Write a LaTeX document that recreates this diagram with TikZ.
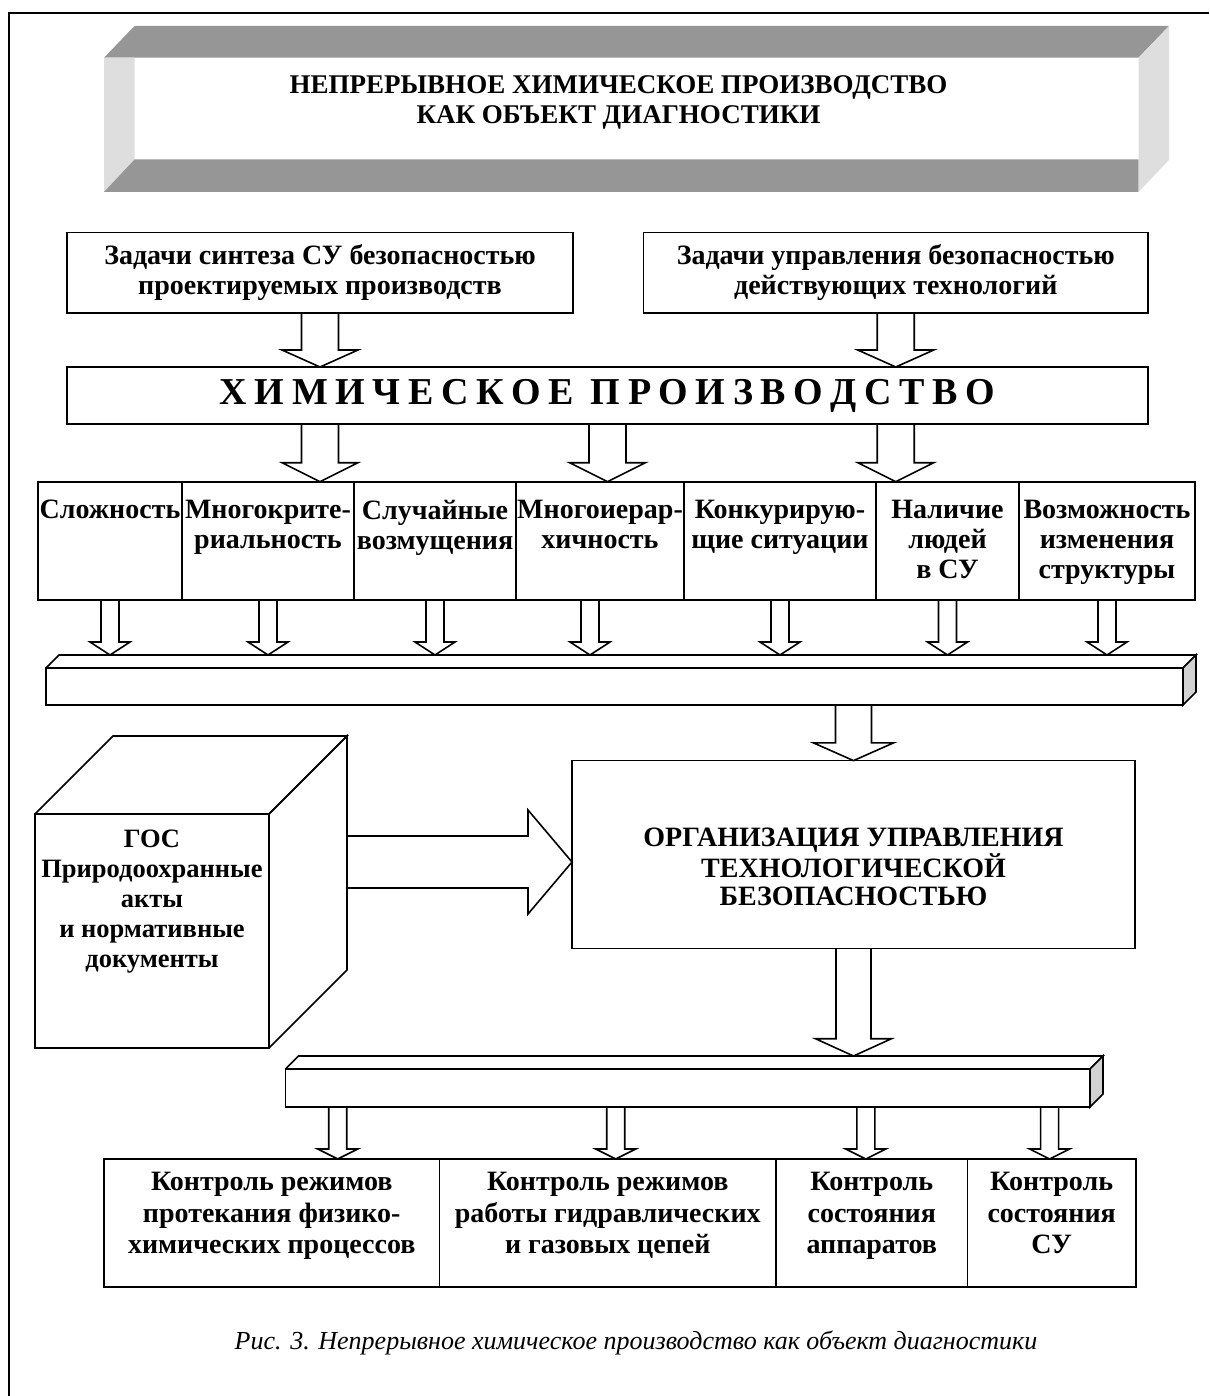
\documentclass[tikz,border=0pt]{standalone}
\usepackage{fontspec}
\setmainfont{Liberation Serif}
\usetikzlibrary{calc,positioning}

\definecolor{facedark}{gray}{0.59}
\definecolor{facelight}{gray}{0.87}
\definecolor{barside}{gray}{0.82}

\begin{document}
\begin{tikzpicture}[x=1pt, y=-1pt, line join=miter,
    box/.style={draw, line width=1.6pt, inner sep=0pt, outer sep=0pt,
      align=center, font=\fontsize{28}{30}\selectfont\bfseries},
    cell/.style={box, minimum height=118.3pt},
    kcell/.style={box, minimum height=128pt},
    boxtext/.style={anchor=north, align=center, inner sep=0pt,
      font=\fontsize{28}{30}\selectfont\bfseries},
    bar/.style={draw, line width=1.6pt, inner sep=0pt, outer sep=0pt,
      anchor=north west},
    face/.style={line width=1.6pt},
    blkdown/.style args={#1/#2/#3}{draw, line width=1.6pt,
      to path={let \p1=(\tikztostart), \p2=(\tikztotarget) in
        (\x1-#1,\y1) -- (\x1-#1,\y2+#3) -- (\x1-#2,\y2+#3) -- (\x1,\y2)
        -- (\x1+#2,\y2+#3) -- (\x1+#1,\y2+#3) -- (\x1+#1,\y1)}},
    blkright/.style args={#1/#2/#3}{draw, line width=1.6pt,
      to path={let \p1=(\tikztostart), \p2=(\tikztotarget) in
        (\x1,\y1+#1) -- (\x2-#3,\y1+#1) -- (\x2-#3,\y1+#2) -- (\x2,\y1)
        -- (\x2-#3,\y1-#2) -- (\x2-#3,\y1-#1) -- (\x1,\y1-#1)}}]

  \useasboundingbox (0,0) rectangle (1209,1396);
  \draw[line width=2pt] (9,1396) -- (9,12.7) -- (1209,12.7);

  % title plate
  \fill[facedark] (104,57.7) -- (134.5,26) -- (1169,26) -- (1138.5,57.7) -- cycle;
  \fill[facelight] (104,57.7) -- (134.5,57.7) -- (134.5,159.5) -- (104,192) -- cycle;
  \fill[facedark] (104,192) -- (134.5,159.5) -- (1138.5,159.5) -- (1138.5,192) -- cycle;
  \fill[facelight] (1138.5,57.7) -- (1169,26) -- (1169,160) -- (1138.5,192) -- cycle;
  \node[align=center, font=\fontsize{27}{30}\selectfont\bfseries] (title) at (618.5,102)
    {НЕПРЕРЫВНОЕ ХИМИЧЕСКОЕ ПРОИЗВОДСТВО\\КАК ОБЪЕКТ ДИАГНОСТИКИ};

  \node[box, minimum width=506pt, minimum height=80pt] (zadA) at (320,272.7)
    {Задачи синтеза СУ безопасностью\\проектируемых производств};
  \node[box, minimum width=504.5pt, minimum height=80pt] (zadB) at (895.75,272.7)
    {Задачи управления безопасностью\\действующих технологий};
  \node[box, minimum width=1081pt, minimum height=57pt,
    font=\fontsize{38}{40}\selectfont\bfseries] (khim) at (607.5,395.5)
    {\spaceskip=7.6pt Х И М И Ч Е С К О Е\hspace{17pt}П Р О И З В О Д С Т В О};

  % factors
  \node[cell, minimum width=144pt, anchor=north west,
    label={[boxtext, yshift=-18pt]north:Сложность}] (c1) at (38,481.7) {};
  \node[cell, minimum width=172pt, right=0pt of c1,
    label={[boxtext, yshift=-18pt]north:{Многокрите-\\риальность}}] (c2) {};
  \node[cell, minimum width=162pt, right=0pt of c2,
    label={[boxtext, yshift=-18pt]north:{Случайные\\возмущения}}] (c3) {};
  \node[cell, minimum width=168pt, right=0pt of c3,
    label={[boxtext, yshift=-18pt]north:{Многоиерар-\\хичность}}] (c4) {};
  \node[cell, minimum width=192pt, right=0pt of c4,
    label={[boxtext, yshift=-18pt]north:{Конкурирую-\\щие ситуации}}] (c5) {};
  \node[cell, minimum width=143pt, right=0pt of c5,
    label={[boxtext, yshift=-18pt]north:{Наличие\\людей\\в СУ}}] (c6) {};
  \node[cell, minimum width=176pt, right=0pt of c6,
    label={[boxtext, yshift=-18pt]north:{Возможность\\изменения\\структуры}}] (c7) {};

  \draw[blkdown=18.5pt/38pt/17pt] (zadA.south) to (khim.north -| zadA.south);
  \draw[blkdown=18.5pt/38pt/17pt] (zadB.south) to (khim.north -| zadB.south);
  \draw[blkdown=18.5pt/38pt/19pt] (khim.south -| zadA.south) to (c1.north -| zadA.south);
  \draw[blkdown=18.5pt/38pt/19pt] (khim.south) to (c1.north -| khim.south);
  \draw[blkdown=18.5pt/38pt/19pt] (khim.south -| zadB.south) to (c1.north -| zadB.south);

  % upper bar
  \node[bar, minimum width=1137pt, minimum height=37pt] (bar1) at (46,668) {};
  \draw[face] (bar1.north west) -- ++(13,-13) -- ++(1137,0) -- (bar1.north east);
  \draw[face, fill=barside] (bar1.north east) -- ++(13,-13) -- ++(0,37) -- (bar1.south east) -- cycle;
  \coordinate (b1back) at ([yshift=13pt]bar1.north);

  \foreach \c in {c1,c2,c3,c5,c6,c7}
    \draw[blkdown=9pt/20pt/13pt] (\c.south) to (\c.south |- b1back);
  \coordinate (c4arr) at ([xshift=-10pt]c4.south);
  \draw[blkdown=9pt/20pt/13pt] (c4arr) to (c4arr |- b1back);

  % organisation and standards
  \node[box, minimum width=563pt, minimum height=188pt,
    label={[boxtext, yshift=-67pt, font=\fontsize{28}{28}\selectfont\bfseries]north:{ОРГАНИЗАЦИЯ УПРАВЛЕНИЯ\\ТЕХНОЛОГИЧЕСКОЙ\\БЕЗОПАСНОСТЬЮ}}]
    (org) at (853.5,854.6) {};
  \draw[blkdown=18pt/40pt/17.7pt] (org.north |- bar1.south) to (org.north);

  \node[box, minimum width=234pt, minimum height=234pt,
    label={[boxtext, yshift=-16pt, font=\fontsize{26.5}{30}\selectfont\bfseries]north:{ГОС\\Природоохранные\\акты\\и нормативные\\документы}}]
    (gos) at (152,931) {};
  \draw[face] (gos.north west) -- ++(78,-78) -- ++(234,0) -- (gos.north east);
  \draw[face] (gos.north east) -- ++(78,-78) -- ++(0,234) -- (gos.south east);
  \coordinate (gosarr) at ([xshift=78pt, yshift=69pt]gos.east);
  \draw[blkright=26pt/52pt/44pt] (gosarr) to (gosarr -| org.west);

  % lower bar
  \node[bar, minimum width=804.6pt, minimum height=38pt] (bar2) at (285.4,1069) {};
  \draw[face] (bar2.north west) -- ++(13,-13) -- ++(804.6,0) -- (bar2.north east);
  \draw[face, fill=barside] (bar2.north east) -- ++(13,-13) -- ++(0,38) -- (bar2.south east) -- cycle;
  \coordinate (b2back) at ([yshift=13pt]bar2.north);
  \draw[blkdown=17.5pt/38pt/17.3pt] (org.south) to (org.south |- b2back);

  % control tasks
  \node[kcell, minimum width=335.5pt, anchor=north west,
    label={[boxtext, yshift=-13pt, font=\fontsize{28}{31.5}\selectfont\bfseries]north:{Контроль режимов\\протекания физико-\\химических процессов}}] (k1) at (104,1159) {};
  \node[kcell, minimum width=336.5pt, right=0pt of k1,
    label={[boxtext, yshift=-13pt, font=\fontsize{28}{31.5}\selectfont\bfseries]north:{Контроль режимов\\работы гидравлических\\и газовых цепей}}] (k2) {};
  \node[kcell, minimum width=191.6pt, right=0pt of k2,
    label={[boxtext, yshift=-13pt, font=\fontsize{28}{31.5}\selectfont\bfseries]north:{Контроль\\состояния\\аппаратов}}] (k3) {};
  \node[kcell, minimum width=168.1pt, right=0pt of k3,
    label={[boxtext, yshift=-13pt, font=\fontsize{28}{31.5}\selectfont\bfseries]north:{Контроль\\состояния\\СУ}}] (k4) {};

  \foreach \k/\dx in {k1/66,k2/8,k3/-6,k4/-2}{
    \coordinate (karr) at ([xshift=\dx pt]\k.north);
    \draw[blkdown=9pt/20pt/10pt] (karr |- bar2.south) to (karr);
  }

  \node[font=\fontsize{26}{30}\selectfont\itshape] (caption) at (636,1343)
    {Рис. 3. Непрерывное химическое производство как объект диагностики};
\end{tikzpicture}
\end{document}
